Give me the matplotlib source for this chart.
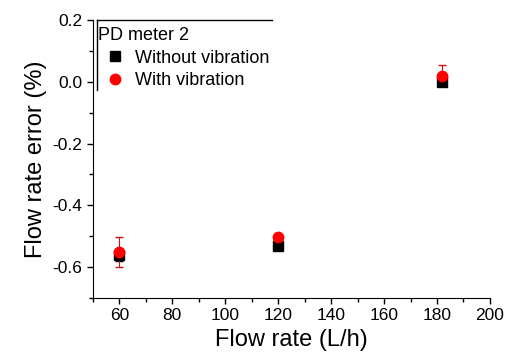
import matplotlib
matplotlib.use('Agg')
import matplotlib.pyplot as plt
from matplotlib.lines import Line2D

plt.rcParams['font.family'] = ['Liberation Sans', 'DejaVu Sans']

# flow rate (L/h)
flow = [60, 120, 182]
# flow rate error (%)
err_without = [-0.56, -0.533, 0.0]
err_with = [-0.552, -0.502, 0.02]
sd_without = [0.02, 0.0, 0.0]
sd_with = [0.048, 0.0, 0.034]

fig = plt.figure(figsize=(5.13, 3.61), dpi=100)
ax = fig.add_axes([0.181, 0.1745, 0.774, 0.77])

ax.errorbar(flow, err_without, yerr=sd_without, fmt='s', color='black',
            markersize=6.5, capsize=3, elinewidth=1, label='Without vibration')
ax.errorbar(flow, err_with, yerr=sd_with, fmt='o', color='red', ecolor='#d01010',
            markersize=7.5, capsize=3, elinewidth=0.8, label='With vibration')

ax.set_xlim(50, 200)
ax.set_ylim(-0.7, 0.2)
ax.set_xticks([60, 80, 100, 120, 140, 160, 180, 200])
ax.set_xticks(range(50, 201, 10), minor=True)
ax.set_yticks([-0.6, -0.4, -0.2, 0.0, 0.2])
ax.set_yticklabels(['-0.6', '-0.4', '-0.2', '0.0', '0.2'])
ax.set_yticks([-0.7, -0.5, -0.3, -0.1, 0.1], minor=True)
ax.tick_params(direction='out', labelsize=12.5, length=4, width=1)
ax.tick_params(which='minor', direction='out', length=3, width=1)
ax.spines['top'].set_visible(False)
ax.spines['right'].set_visible(False)

ax.set_xlabel('Flow rate (L/h)', fontsize=17)
ax.set_ylabel('Flow rate error (%)', fontsize=17)

handles = [Line2D([], [], ls='none', marker='s', color='black', markersize=6.5),
           Line2D([], [], ls='none', marker='o', color='red', markersize=7.5)]
leg = ax.legend(handles, ['Without vibration', 'With vibration'], title='PD meter 2',
                loc='upper left', bbox_to_anchor=(0.0, 0.995), frameon=False,
                fontsize=13, title_fontsize=13, handletextpad=0.17,
                borderaxespad=0.0, borderpad=0.3, labelspacing=0.32, handlelength=1.85)
leg._legend_box.align = 'left'

# legend box edges (top and left only)
ax.plot([0.01, 0.45], [1.0, 1.0], transform=ax.transAxes, color='black', lw=1, clip_on=False)
ax.plot([0.01, 0.01], [1.0, 0.75], transform=ax.transAxes, color='black', lw=1, clip_on=False)

fig.savefig('out.png', dpi=100)
